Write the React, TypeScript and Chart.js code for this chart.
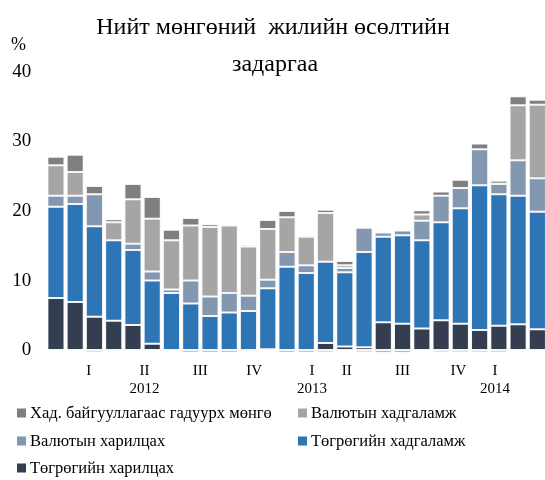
import React, { useEffect, useRef } from 'react';
import { Chart, registerables } from 'chart.js';

Chart.register(...registerables);

// ---- data ----
const categories = [
  '1', '2', '3', '4', '5', '6', '7', '8', '9', '10', '11', '12', '13',
  '14', '15', '16', '17', '18', '19', '20', '21', '22', '23', '24', '25', '26',
];
const mntCurrent = [7.5, 6.9, 4.8, 4.2, 3.6, 0.9, 0, -0.3, -0.3, -0.3, -0.2, 0.1, -0.3, -0.3, 1.0, 0.5, 0.4, 4.0, 3.8, 3.1, 4.3, 3.8, 2.9, 3.5, 3.7, 3.0];
const mntDeposits = [13.1, 14.1, 13.0, 11.6, 10.8, 9.1, 8.2, 6.7, 4.9, 5.4, 5.6, 8.8, 12.0, 11.1, 11.7, 10.7, 13.7, 12.3, 12.7, 12.7, 14.1, 16.6, 20.8, 18.9, 18.5, 16.9];
const fxCurrent = [1.6, 1.2, 4.6, -0.1, 0.9, 1.3, 0.5, 3.3, 2.8, 2.8, 2.2, 1.2, 2.1, 1.1, -0.3, 0.6, 3.5, 0.6, 0.7, 2.8, 3.8, 2.9, 5.2, 1.5, 5.1, 4.8];
const fxDeposits = [4.4, 3.4, -0.3, 2.6, 6.4, 7.6, 7.1, 7.9, 10.0, 9.7, 7.1, 7.3, 5.0, 4.1, 7.0, 0.4, -0.3, -0.4, -0.4, 0.9, -0.3, -0.3, -0.3, 0.5, 7.9, 10.6];
const currencyOutside = [1.2, 2.5, 1.2, 0.4, 2.2, 3.1, 1.5, 1.1, 0.4, 0.1, 0.2, 1.3, 0.9, 0.1, 0.5, 0.6, 0, 0, 0, 0.6, 0.6, 1.2, 0.8, -0.3, 1.3, 0.7];

const quarterLabels = ['I', 'II', 'III', 'IV', 'I', 'II', 'III', 'IV', 'I'];
const yearLabels = ['', '2012', '', '', '2013', '', '', '', '2014'];
const quarterTickAt = [1.7, 4.6, 7.5, 10.3, 13.3, 15.1, 18.0, 20.9, 22.8];
const yTicks = [0, 10, 20, 30, 40];

const titleLines = ['Нийт мөнгөний  жилийн өсөлтийн', 'задаргаа'];
const unitLabel = '%';
const seriesNames = {
  outside: 'Хад. байгууллагаас гадуурх мөнгө',
  fxDep: 'Валютын хадгаламж',
  fxCur: 'Валютын харилцах',
  mntDep: 'Төгрөгийн хадгаламж',
  mntCur: 'Төгрөгийн харилцах',
};

const colors = {
  outside: '#7f7f7f',
  fxDep: '#a5a5a5',
  fxCur: '#8497b0',
  mntDep: '#2e75b6',
  mntCur: '#333f50',
};

const serif = '"Liberation Serif", "Times New Roman", serif';

const legendOrder: (keyof typeof seriesNames)[] = ['outside', 'fxDep', 'fxCur', 'mntDep', 'mntCur'];

const decorPlugin = {
  id: 'decor',
  afterDraw(chart: any) {
    const ctx = chart.ctx as CanvasRenderingContext2D;
    ctx.save();
    ctx.fillStyle = '#000';
    ctx.textBaseline = 'alphabetic';
    ctx.textAlign = 'center';
    ctx.font = `24px ${serif}`;
    ctx.fillText(titleLines[0], 273, 34);
    ctx.fillText(titleLines[1], 275, 71);

    ctx.textAlign = 'left';
    ctx.font = `18px ${serif}`;
    ctx.fillText(unitLabel, 11, 50);

    // legend, two columns
    ctx.font = `16.5px ${serif}`;
    ctx.textBaseline = 'middle';
    const colX = [17, 298];
    const rowY = [413, 441, 468];
    legendOrder.forEach((key, i) => {
      const col = i % 2;
      const row = Math.floor(i / 2);
      const x = colX[col];
      const y = rowY[row];
      ctx.fillStyle = colors[key];
      ctx.fillRect(x, y - 4.5, 9, 9);
      ctx.fillStyle = '#000';
      ctx.fillText(seriesNames[key], x + 13, y + 1);
    });
    ctx.restore();
  },
};

export default function App() {
  const canvasRef = useRef<HTMLCanvasElement | null>(null);

  useEffect(() => {
    if (!canvasRef.current) return;
    const mk = (key: keyof typeof colors, data: number[]) => ({
      label: seriesNames[key],
      data,
      backgroundColor: colors[key],
      borderColor: '#f4f4f4',
      borderWidth: 1,
      borderSkipped: false as const,
      categoryPercentage: 1,
      barPercentage: 0.89,
    });
    const chart = new Chart(canvasRef.current, {
      type: 'bar',
      data: {
        labels: categories,
        datasets: [
          mk('mntCur', mntCurrent),
          mk('mntDep', mntDeposits),
          mk('fxCur', fxCurrent),
          mk('fxDep', fxDeposits),
          mk('outside', currencyOutside),
        ],
      },
      options: {
        responsive: false,
        animation: false,
        devicePixelRatio: 1,
        layout: { padding: { top: 72, left: 0, right: 0, bottom: 0 } },
        plugins: {
          legend: { display: false },
          title: { display: false },
          tooltip: { enabled: false },
        },
        scales: {
          x: {
            stacked: true,
            grid: { display: false, drawTicks: false },
            border: { display: false },
            afterBuildTicks: (scale: any) => {
              scale.ticks = quarterTickAt.map((v) => ({ value: v }));
            },
            afterFit: (scale: any) => {
              scale.height = 123;
            },
            ticks: {
              autoSkip: false,
              maxRotation: 0,
              minRotation: 0,
              padding: 5,
              color: '#000',
              font: { family: serif, size: 15, lineHeight: 1.2 },
              callback: (_v: any, i: number) =>
                yearLabels[i] ? [quarterLabels[i], yearLabels[i]] : quarterLabels[i],
            },
          },
          y: {
            stacked: true,
            min: -1,
            max: 40,
            grid: { display: false, drawTicks: false },
            border: { display: false },
            afterBuildTicks: (scale: any) => {
              scale.ticks = yTicks.map((v) => ({ value: v }));
            },
            afterFit: (scale: any) => {
              scale.width = 46.3;
            },
            ticks: {
              padding: 15,
              color: '#000',
              font: { family: serif, size: 19 },
            },
          },
        },
      },
      plugins: [decorPlugin],
    });
    return () => chart.destroy();
  }, []);

  return (
    <div
      style={{
        position: 'absolute',
        left: 0,
        top: 0,
        width: 545,
        height: 480,
        overflow: 'hidden',
        background: '#fff',
      }}
    >
      <canvas ref={canvasRef} width={547} height={480} style={{ display: 'block' }} />
    </div>
  );
}
